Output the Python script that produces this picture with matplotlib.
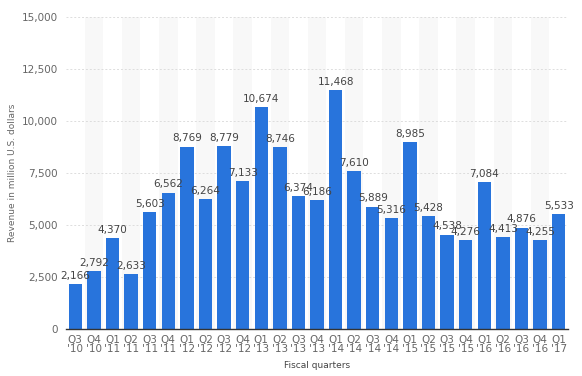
import matplotlib
matplotlib.use("Agg")
import matplotlib.pyplot as plt
from matplotlib.ticker import FuncFormatter

quarters = ["Q3\n'10", "Q4\n'10", "Q1\n'11", "Q2\n'11", "Q3\n'11", "Q4\n'11",
            "Q1\n'12", "Q2\n'12", "Q3\n'12", "Q4\n'12", "Q1\n'13", "Q2\n'13",
            "Q3\n'13", "Q4\n'13", "Q1\n'14", "Q2\n'14", "Q3\n'14", "Q4\n'14",
            "Q1\n'15", "Q2\n'15", "Q3\n'15", "Q4\n'15", "Q1\n'16", "Q2\n'16",
            "Q3\n'16", "Q4\n'16", "Q1\n'17"]
revenue = [2166, 2792, 4370, 2633, 5603, 6562, 8769, 6264, 8779, 7133, 10674,
           8746, 6374, 6186, 11468, 7610, 5889, 5316, 8985, 5428, 4538, 4276,
           7084, 4413, 4876, 4255, 5533]
yticks = [0, 2500, 5000, 7500, 10000, 12500, 15000]

fig = plt.figure(figsize=(5.82, 3.76), dpi=100)
ax = fig.add_axes([66/582, 1-329/376, (568-66)/582, (329-17)/376])

n = len(revenue)
x = list(range(n))
for i in x:
    if i % 2 == 1:
        ax.axvspan(i-0.5, i+0.5, color="#f8f8f8", zorder=0, lw=0)

ax.bar(x, revenue, width=0.72, color="#2874dc", zorder=3)
for i, v in zip(x, revenue):
    ax.text(i, v + 150, f"{v:,}", ha="center", va="bottom", fontsize=7.5,
            color="#444444", zorder=4)

ax.set_xlim(-0.5, n-0.5)
ax.set_ylim(0, 15000)
ax.set_yticks(yticks)
ax.yaxis.set_major_formatter(FuncFormatter(lambda v, p: f"{int(v):,}"))
ax.set_xticks(x)
ax.set_xticklabels(quarters, linespacing=0.95)
ax.tick_params(axis="both", length=0, labelsize=7.5, colors="#666666")
ax.tick_params(axis="x", pad=4)
ax.tick_params(axis="y", pad=6)
ax.grid(axis="y", color="#dddddd", linestyle=(0, (2, 2)), linewidth=0.7, zorder=1)
for s in ["top", "right", "left"]:
    ax.spines[s].set_visible(False)
ax.spines["bottom"].set_color("#333333")
ax.spines["bottom"].set_linewidth(1.0)
ax.spines["bottom"].set_zorder(5)

ax.set_ylabel("Revenue in million U.S. dollars", fontsize=6.5, color="#666666", labelpad=3)
ax.set_xlabel("Fiscal quarters", fontsize=6.5, color="#444444", labelpad=5)

fig.savefig("out.png", dpi=100)
